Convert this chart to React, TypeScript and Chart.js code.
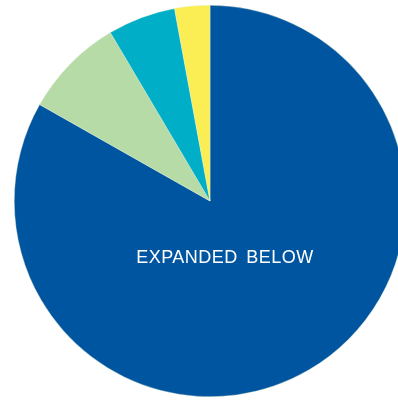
import React, { useEffect, useRef } from "react";
import { Chart, registerables } from "chart.js";

Chart.register(...registerables);

const categories = ["Main", "Group B", "Group C", "Group D"];
const values = [83.2, 8.3, 5.6, 2.9];
const colors = ["#0055A1", "#B6DBA7", "#00AEC7", "#FBEE55"];
const centerLabel = "EXPANDED BELOW";

export default function App() {
  const ref = useRef<HTMLCanvasElement | null>(null);
  useEffect(() => {
    if (!ref.current) return;
    const labelPlugin = {
      id: "centerLabel",
      afterDraw(chart: any) {
        const ctx = chart.ctx;
        ctx.save();
        ctx.fillStyle = "#ffffff";
        ctx.font = "18px 'Liberation Sans', Arial, sans-serif";
        try {
          ctx.letterSpacing = "0.5px";
          ctx.wordSpacing = "3px";
        } catch (e) {}
        ctx.textAlign = "center";
        ctx.textBaseline = "middle";
        ctx.fillText(centerLabel, 225, 258.5);
        ctx.restore();
      },
    };
    const chart = new Chart(ref.current, {
      type: "pie",
      data: {
        labels: categories,
        datasets: [
          {
            data: values,
            backgroundColor: colors,
            borderWidth: 0.5,
            borderColor: "rgba(230,240,210,0.8)",
          },
        ],
      },
      options: {
        animation: false,
        responsive: false,
        maintainAspectRatio: false,
        layout: { padding: 5 },
        plugins: {
          legend: { display: false },
          tooltip: { enabled: false },
        },
      },
      plugins: [labelPlugin],
    });
    return () => chart.destroy();
  }, []);
  return (
    <div
      style={{
        position: "fixed",
        left: 0,
        top: 0,
        width: 398,
        height: 400,
        overflow: "hidden",
        background: "#ffffff",
      }}
    >
      <canvas ref={ref} width={420} height={402} style={{ display: "block" }} />
    </div>
  );
}
